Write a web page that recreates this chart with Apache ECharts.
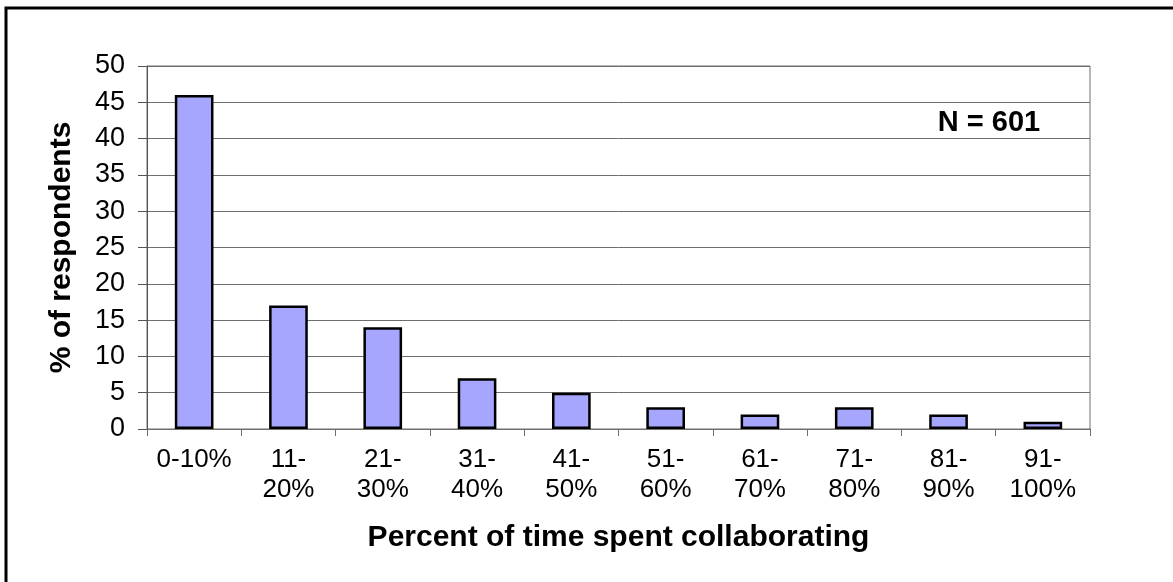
<!DOCTYPE html>
<html>
<head>
<meta charset="utf-8">
<script src="https://cdn.jsdelivr.net/npm/echarts@6/dist/echarts.min.js"></script>
<style>
  html, body { margin: 0; padding: 0; background: #fff; }
  #chart { width: 1173px; height: 582px; }
</style>
</head>
<body>
<div id="chart"></div>
<script>
// Share of respondents by the percent of time they spend collaborating
const categories = ['0-10%', '11-\n20%', '21-\n30%', '31-\n40%', '41-\n50%',
                    '51-\n60%', '61-\n70%', '71-\n80%', '81-\n90%', '91-\n100%'];
const respondents = [46, 17, 14, 7, 5, 3, 2, 3, 2, 1];
const yTicks = [0, 5, 10, 15, 20, 25, 30, 35, 40, 45, 50];
const sampleNote = 'N = 601';

const FONT = '"Liberation Sans", Arial, sans-serif';

const chart = echarts.init(document.getElementById('chart'), null, { renderer: 'canvas' });

chart.setOption({
  animation: false,
  backgroundColor: '#ffffff',
  grid: {
    left: 147, right: 83, top: 66, bottom: 153,
    show: true, borderColor: '#6e6e6e', borderWidth: 1
  },
  xAxis: {
    type: 'category',
    data: categories,
    name: 'Percent of time spent collaborating',
    nameLocation: 'middle',
    nameGap: 94,
    nameTextStyle: { fontFamily: FONT, fontSize: 30, fontWeight: 'bold', color: '#000' },
    axisLine: { lineStyle: { color: '#6e6e6e', width: 1 } },
    axisTick: { show: true, length: 7, alignWithLabel: false, lineStyle: { color: '#6e6e6e' } },
    axisLabel: {
      interval: 0, margin: 16, fontFamily: FONT, fontSize: 26, color: '#000',
      lineHeight: 30, align: 'center'
    }
  },
  yAxis: {
    type: 'value',
    min: yTicks[0],
    max: yTicks[yTicks.length - 1],
    interval: yTicks[1] - yTicks[0],
    name: '% of respondents',
    nameLocation: 'middle',
    nameGap: 70,
    nameRotate: 90,
    nameTextStyle: { fontFamily: FONT, fontSize: 30, fontWeight: 'bold', color: '#000' },
    axisLine: { show: true, lineStyle: { color: '#555', width: 1 } },
    axisTick: { show: true, length: 9, lineStyle: { color: '#555' } },
    axisLabel: { margin: 22, fontFamily: FONT, fontSize: 27, color: '#000' },
    splitLine: { show: true, lineStyle: { color: '#6e6e6e', width: 1 } }
  },
  series: [{
    type: 'bar',
    data: respondents,
    barWidth: '41%',
    itemStyle: { color: '#a6a6ff', borderColor: '#000', borderWidth: 2.5 }
  }],
  graphic: [
    {
      type: 'rect',
      shape: { x: 6, y: 8, width: 1200, height: 620 },
      style: { fill: 'none', stroke: '#000', lineWidth: 3 },
      silent: true
    },
    {
      type: 'text',
      x: 989, y: 123,
      style: {
        text: sampleNote, fontFamily: FONT, fontSize: 29, fontWeight: 'bold',
        fill: '#000', textAlign: 'center', textVerticalAlign: 'middle'
      }
    }
  ]
});
</script>
</body>
</html>
